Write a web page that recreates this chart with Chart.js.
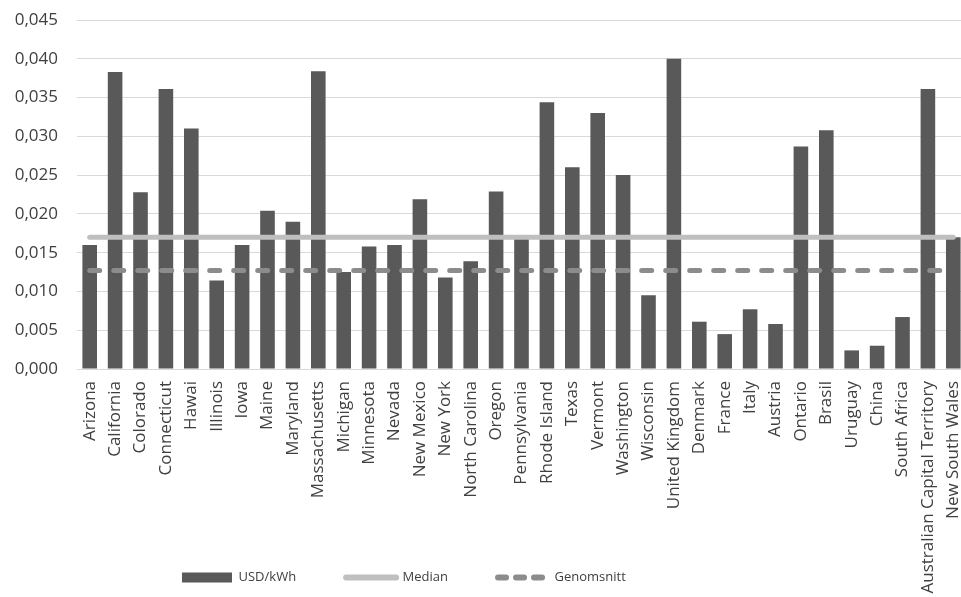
<!DOCTYPE html>
<html>
<head>
<meta charset="utf-8">
<script src="https://cdn.jsdelivr.net/npm/chart.js@4/dist/chart.umd.min.js"></script>
<style>
  html, body { margin: 0; padding: 0; overflow: hidden; background: #ffffff; }
  #wrap { width: 980px; height: 597px; }
</style>
</head>
<body>
<div id="wrap"><canvas id="c" width="980" height="597"></canvas></div>
<script>
const categories = ["Arizona","California","Colorado","Connecticut","Hawai","Illinois","Iowa","Maine","Maryland","Massachusetts","Michigan","Minnesota","Nevada","New Mexico","New York","North Carolina","Oregon","Pennsylvania","Rhode Island","Texas","Vermont","Washington","Wisconsin","United Kingdom","Denmark","France","Italy","Austria","Ontario","Brasil","Uruguay","China","South Africa","Australian Capital Territory","New South Wales"];

const usdPerKwh = [0.0160,0.0383,0.0228,0.0361,0.0310,0.0114,0.0160,0.0204,0.0190,0.0384,0.0125,0.0158,0.0160,0.0219,0.0118,0.0139,0.0229,0.0169,0.0344,0.0260,0.0330,0.0250,0.0095,0.0400,0.0061,0.0045,0.0077,0.0058,0.0287,0.0308,0.0024,0.0030,0.0067,0.0361,0.0170];

const median = [0.017,0.017,0.017,0.017,0.017,0.017,0.017,0.017,0.017,0.017,0.017,0.017,0.017,0.017,0.017,0.017,0.017,0.017,0.017,0.017,0.017,0.017,0.017,0.017,0.017,0.017,0.017,0.017,0.017,0.017,0.017,0.017,0.017,0.017,0.017];

const genomsnitt = [0.0127,0.0127,0.0127,0.0127,0.0127,0.0127,0.0127,0.0127,0.0127,0.0127,0.0127,0.0127,0.0127,0.0127,0.0127,0.0127,0.0127,0.0127,0.0127,0.0127,0.0127,0.0127,0.0127,0.0127,0.0127,0.0127,0.0127,0.0127,0.0127,0.0127,0.0127,0.0127,0.0127,0.0127,0.0127];

const yTicks = [0, 0.005, 0.010, 0.015, 0.020, 0.025, 0.030, 0.035, 0.040, 0.045];

const seriesNames = ["USD/kWh", "Median", "Genomsnitt"];

const BAR_COLOR = '#595959';
const MEDIAN_COLOR = '#BFBFBF';
const MEAN_COLOR = '#8C8C8C';
const TEXT_COLOR = '#404040';
const GRID_COLOR = '#D9D9D9';
const PLOT_BOTTOM = 369;

const legendPos = {
  id: 'legendPos',
  afterLayout(chart) {
    const l = chart.legend;
    if (l) {
      const pad = l.options.labels.padding;
      const w = l.right - l.left;
      const h = l.bottom - l.top;
      l.left = 182 - pad;
      l.right = l.left + w;
      l.top = 571 - pad;
      l.bottom = l.top + h;
    }
    const xs = chart.scales.x;
    xs.bottom = chart.height;
  }
};

new Chart(document.getElementById('c'), {
  type: 'bar',
  data: {
    labels: categories,
    datasets: [
      {
        label: seriesNames[0],
        data: usdPerKwh,
        backgroundColor: BAR_COLOR,
        borderColor: BAR_COLOR,
        borderWidth: 0,
        barPercentage: 0.575,
        categoryPercentage: 1.0,
        order: 3
      },
      {
        type: 'line',
        label: seriesNames[1],
        data: median,
        borderColor: MEDIAN_COLOR,
        backgroundColor: MEDIAN_COLOR,
        borderWidth: 5,
        borderCapStyle: 'round',
        pointRadius: 0,
        fill: false,
        order: 2
      },
      {
        type: 'line',
        label: seriesNames[2],
        data: genomsnitt,
        borderColor: MEAN_COLOR,
        backgroundColor: MEAN_COLOR,
        borderWidth: 5,
        borderCapStyle: 'round',
        borderDash: [10, 14],
        pointRadius: 0,
        fill: false,
        order: 1
      }
    ]
  },
  options: {
    responsive: false,
    animation: false,
    layout: { padding: { left: 0, right: 14, top: 20, bottom: 0 } },
    plugins: {
      tooltip: { enabled: false },
      legend: {
        position: 'bottom',
        align: 'start',
        labels: {
          usePointStyle: true,
          pointStyleWidth: 50,
          boxHeight: 10,
          padding: 50,
          color: TEXT_COLOR,
          font: { family: 'Open Sans', size: 13 },
          generateLabels(chart) {
            return chart.data.datasets.map((ds, i) => {
              if (i === 0) {
                return { text: ds.label, datasetIndex: i, pointStyle: 'rect', fillStyle: BAR_COLOR, strokeStyle: BAR_COLOR, lineWidth: 0, fontColor: TEXT_COLOR };
              }
              return {
                text: ds.label, datasetIndex: i, pointStyle: 'line',
                fillStyle: ds.borderColor, strokeStyle: ds.borderColor,
                lineWidth: 6, lineCap: 'round',
                lineDash: i === 2 ? [8, 10] : [],
                fontColor: TEXT_COLOR
              };
            });
          }
        }
      }
    },
    scales: {
      x: {
        grid: { display: false, drawTicks: false },
        border: { display: true, color: GRID_COLOR, width: 1 },
        ticks: {
          autoSkip: false,
          minRotation: 90,
          maxRotation: 90,
          padding: 12,
          color: TEXT_COLOR,
          font: { family: 'Open Sans', size: 17 }
        },
        afterFit(scale) {
          scale.height = 597 - PLOT_BOTTOM - scale.chart.legend.height;
          scale.paddingLeft = 0;
          scale.paddingRight = 0;
        }
      },
      y: {
        min: 0,
        max: 0.045,
        afterBuildTicks(scale) {
          scale.ticks = yTicks.map(v => ({ value: v }));
        },
        grid: { color: GRID_COLOR, lineWidth: 1, drawTicks: false },
        border: { display: false },
        ticks: {
          padding: 19,
          color: TEXT_COLOR,
          font: { family: 'Open Sans', size: 17 },
          callback: v => v.toFixed(3).replace('.', ',')
        },
        afterFit(scale) {
          scale.width = 77;
          scale.paddingTop = 0;
          scale.paddingBottom = 0;
        }
      }
    }
  },
  plugins: [legendPos]
});
</script>
</body>
</html>
